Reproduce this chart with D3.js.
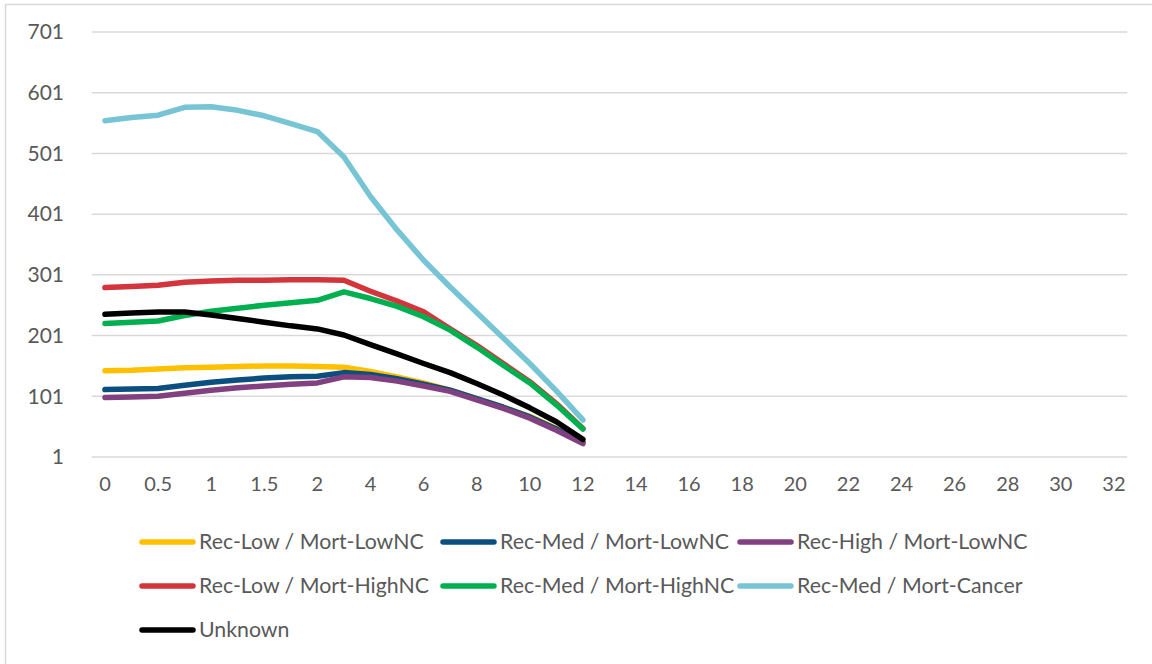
<!DOCTYPE html>
<html>
<head>
<meta charset="utf-8">
<script src="https://cdn.jsdelivr.net/npm/d3@7"></script>
<style>
  html, body { margin: 0; padding: 0; background: #fff; }
  svg { display: block; }
  text { font-family: Lato, "Noto Sans", sans-serif; fill: #595959; }
</style>
</head>
<body>
<svg id="chart" width="1152" height="664"></svg>
<script>
// Categories on the x axis (every other one is labelled)
const categories = ["0","0.25","0.5","0.75","1","1.25","1.5","1.75","2",
  "3","4","5","6","7","8","9","10","11","12","13","14","15","16","17","18","19","20",
  "21","22","23","24","25","26","27","28","29","30","31","32"];

const yTicks = [1, 101, 201, 301, 401, 501, 601, 701];

const seriesNames = [
  "Rec-Low / Mort-LowNC", "Rec-Med / Mort-LowNC", "Rec-High / Mort-LowNC",
  "Rec-Low / Mort-HighNC", "Rec-Med / Mort-HighNC", "Rec-Med / Mort-Cancer",
  "Unknown"
];
const seriesColors = ["#FFC000", "#0B4F7E", "#81407F", "#D4343B", "#00B050", "#77C4D5", "#000000"];

const recLowMortLowNC  = [143,144,146,148,149,150,151,151,150,149,142,133,123,111,97,83,68,48,26];
const recMedMortLowNC  = [112,113,114,119,124,128,131,133,134,140,137,130,121,111,97,83,67,47,25];
const recHighMortLowNC = [99,100,101,106,111,115,118,121,123,133,132,126,118,109,95,81,65,45,23];
const recLowMortHighNC = [280,282,284,289,291,292,292,293,293,292,274,258,240,212,185,155,125,89,48];
const recMedMortHighNC = [221,223,225,234,241,246,251,255,259,273,262,249,232,210,182,152,123,87,47];
const recMedMortCancer = [555,560,564,577,578,572,563,550,537,495,430,375,325,281,239,197,155,110,62];
const unknown          = [236,238,240,240,235,229,223,217,212,202,186,171,155,140,122,103,82,59,30];

const seriesValues = [recLowMortLowNC, recMedMortLowNC, recHighMortLowNC,
  recLowMortHighNC, recMedMortHighNC, recMedMortCancer, unknown];

const svg = d3.select("#chart");

// outer chart border
svg.append("rect").attr("x", 5.5).attr("y", 4.5).attr("width", 1170).attr("height", 680)
  .attr("fill", "none").attr("stroke", "#D9D9D9").attr("stroke-width", 1.5);

const plotLeft = 91.7, plotRight = 1127.2, plotTop = 32, plotBottom = 457;

const x = d3.scaleBand().domain(categories).range([plotLeft, plotRight]).padding(0);
const y = d3.scaleLinear().domain([1, 701]).range([plotBottom, plotTop]);

// gridlines
svg.append("g").selectAll("line").data(yTicks).join("line")
  .attr("x1", plotLeft).attr("x2", plotRight)
  .attr("y1", d => y(d)).attr("y2", d => y(d))
  .attr("stroke", "#D9D9D9").attr("stroke-width", 1.5);

// y axis labels
const yAxis = d3.axisLeft(y).tickValues(yTicks).tickSize(0).tickPadding(0).tickFormat(d3.format("d"));
const gy = svg.append("g").attr("transform", `translate(64,0)`).call(yAxis);
gy.select(".domain").remove();
gy.selectAll("text").style("font-size", "21px").attr("fill", "#595959")
  .style("font-family", "Lato, 'Noto Sans', sans-serif");

// x axis labels
const xAxis = d3.axisBottom(x).tickValues(categories.filter((d, i) => i % 2 === 0)).tickSize(0).tickPadding(0);
const gx = svg.append("g").attr("transform", `translate(0,${plotBottom + 20})`).call(xAxis);
gx.select(".domain").remove();
gx.selectAll("text").style("font-size", "20px").attr("fill", "#595959")
  .style("font-family", "Lato, 'Noto Sans', sans-serif");

// lines
const line = d3.line()
  .x((d, i) => x(categories[i]) + x.bandwidth() / 2)
  .y(d => y(d));

seriesValues.forEach((vals, k) => {
  svg.append("path").datum(vals)
    .attr("d", line)
    .attr("fill", "none")
    .attr("stroke", seriesColors[k])
    .attr("stroke-width", 5.5)
    .attr("stroke-linejoin", "round")
    .attr("stroke-linecap", "round");
});

// legend
const legendCols = [140, 441, 738];
const legendRows = [542, 586, 630];
seriesNames.forEach((name, k) => {
  const cx = legendCols[k % 3], cy = legendRows[Math.floor(k / 3)];
  const g = svg.append("g");
  g.append("line").attr("x1", cx + 2).attr("x2", cx + 53).attr("y1", cy).attr("y2", cy)
    .attr("stroke", seriesColors[k]).attr("stroke-width", 5.5).attr("stroke-linecap", "round");
  g.append("text").attr("x", cx + 59).attr("y", cy).attr("dy", "0.35em")
    .style("font-size", "21.3px").text(name);
});
</script>
</body>
</html>
